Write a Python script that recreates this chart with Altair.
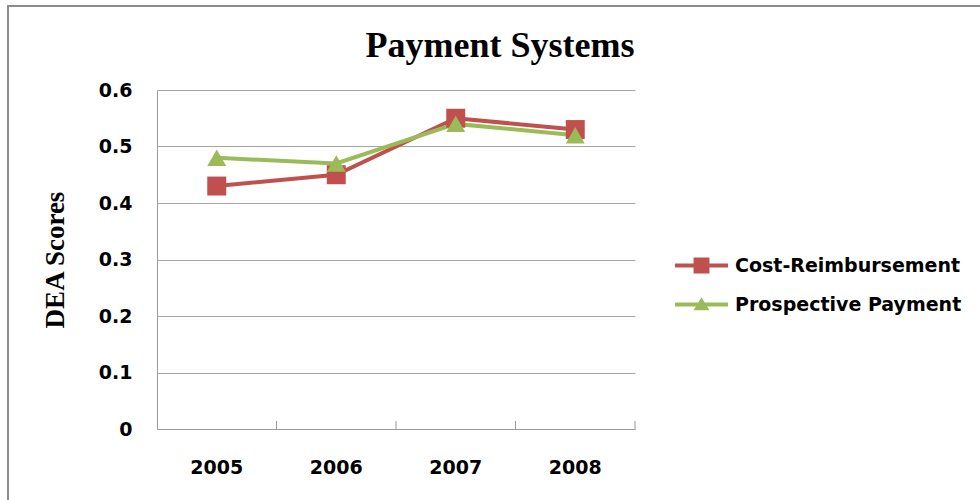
import altair as alt
import pandas as pd

chart_title = "Payment Systems"
years = ["2005", "2006", "2007", "2008"]
series_names = ["Cost-Reimbursement", "Prospective Payment"]
cost_reimbursement = [0.43, 0.45, 0.55, 0.53]
prospective_payment = [0.48, 0.47, 0.54, 0.52]
y_ticks = [0, 0.1, 0.2, 0.3, 0.4, 0.5, 0.6]
colors = ["#C0504D", "#9BBB59"]

rows = []
for i, y in enumerate(years):
    rows.append({"Year": y, "Series": series_names[0], "Score": cost_reimbursement[i], "order": 0})
for i, y in enumerate(years):
    rows.append({"Year": y, "Series": series_names[1], "Score": prospective_payment[i], "order": 1})
df = pd.DataFrame(rows)
years_df = pd.DataFrame({"Year": years})
title_df = pd.DataFrame({"t": [chart_title]})

W, H = 478, 339
LABEL_FONT = "DejaVu Sans"
GRAY = "#9a9a9a"

sq_path = "M-1,-0.075H1V0.075H-1Z M-0.3,-0.3H0.3V0.3H-0.3Z"
tri_path = "M-1,-0.075H1V0.075H-1Z M0,-0.27L0.3,0.22L-0.3,0.22Z"

x_scale = alt.Scale(type="band", paddingInner=0, paddingOuter=0, domain=years)
x_axis = alt.Axis(
    title=None,
    labelAngle=0,
    labelFont=LABEL_FONT,
    labelFontWeight="bold",
    labelFontSize=19,
    labelColor="#000000",
    labelPadding=29,
    domainColor=GRAY,
    ticks=False,
    grid=False,
)
x_enc = alt.X("Year:O", scale=x_scale, axis=x_axis)
y_enc = alt.Y(
    "Score:Q",
    scale=alt.Scale(domain=[0, 0.6], nice=False, zero=True),
    axis=alt.Axis(
        title="DEA Scores",
        titleFont="Liberation Serif",
        titleFontWeight="bold",
        titleFontSize=27,
        titleColor="#000000",
        titleX=-102,
        titleY=H / 2,
        titleAlign="center",
        titleBaseline="middle",
        values=y_ticks,
        labelExpr="datum.value == 0 ? '0' : format(datum.value, '.1f')",
        labelFont=LABEL_FONT,
        labelFontWeight="bold",
        labelFontSize=19,
        labelColor="#000000",
        labelPadding=25,
        ticks=False,
        domainColor=GRAY,
        gridColor="#a6a6a6",
        gridWidth=1,
    ),
)

color_scale = alt.Scale(domain=series_names, range=colors)

base = alt.Chart(df)

lines = base.mark_line(strokeWidth=4).encode(
    x=x_enc, y=y_enc,
    color=alt.Color("Series:N", scale=color_scale, legend=None),
    detail="Series:N", order="order:Q",
)
points = base.mark_point(filled=True, size=360, opacity=1, strokeWidth=0).encode(
    x=x_enc,
    y=y_enc,
    color=alt.Color("Series:N", scale=color_scale, legend=None),
    shape=alt.Shape("Series:N", scale=alt.Scale(domain=series_names, range=["square", "triangle-up"]), legend=None),
    order="order:Q",
)

legend = alt.Legend(
    title=None,
    orient="none",
    legendX=518,
    legendY=149,
    padding=0,
    symbolSize=2809,
    symbolStrokeWidth=0,
    symbolOpacity=1,
    labelFont=LABEL_FONT,
    labelFontWeight="bold",
    labelFontSize=19,
    labelColor="#000000",
    labelOffset=7,
    labelLimit=0,
    rowPadding=2,
)
legend_layer = base.mark_point(filled=True, size=0, strokeWidth=0).encode(
    x=x_enc,
    y=y_enc,
    color=alt.Color("Series:N", scale=color_scale, legend=legend),
    shape=alt.Shape("Series:N", scale=alt.Scale(domain=series_names, range=[sq_path, tri_path]), legend=legend),
)

ticks = alt.Chart(years_df).mark_rule(color=GRAY, strokeWidth=1).encode(
    x=alt.X("Year:O", scale=x_scale, bandPosition=1, axis=x_axis),
    y=alt.value(H - 8),
    y2=alt.value(H),
)

frame_top = alt.Chart(years_df).mark_rule(color="#8c8c8c", strokeWidth=2).encode(
    x=alt.value(-149), x2=alt.value(980 - 157), y=alt.value(-84)
)
frame_left = alt.Chart(years_df).mark_rule(color="#8c8c8c", strokeWidth=2).encode(
    x=alt.value(-149), y=alt.value(-85), y2=alt.value(500 - 90)
)

title_text = alt.Chart(title_df).mark_text(
    font="Liberation Serif",
    fontWeight="bold",
    fontSize=36,
    color="#000000",
    align="center",
    baseline="alphabetic",
).encode(
    text="t:N",
    x=alt.value(500 - 157),
    y=alt.value(57 - 90),
)

chart = (
    alt.layer(frame_top, frame_left, title_text, ticks, lines, points, legend_layer)
    .resolve_scale(shape="independent", color="independent")
    .properties(
        width=W,
        height=H,
        autosize=alt.AutoSizeParams(type="none"),
        padding={"left": 157, "top": 90, "right": 980 - 157 - W, "bottom": 500 - 90 - H},
        background="#ffffff",
    )
    .configure_view(stroke=None)
)

chart.save("out.html", embed_options={"renderer": "svg", "actions": False})
